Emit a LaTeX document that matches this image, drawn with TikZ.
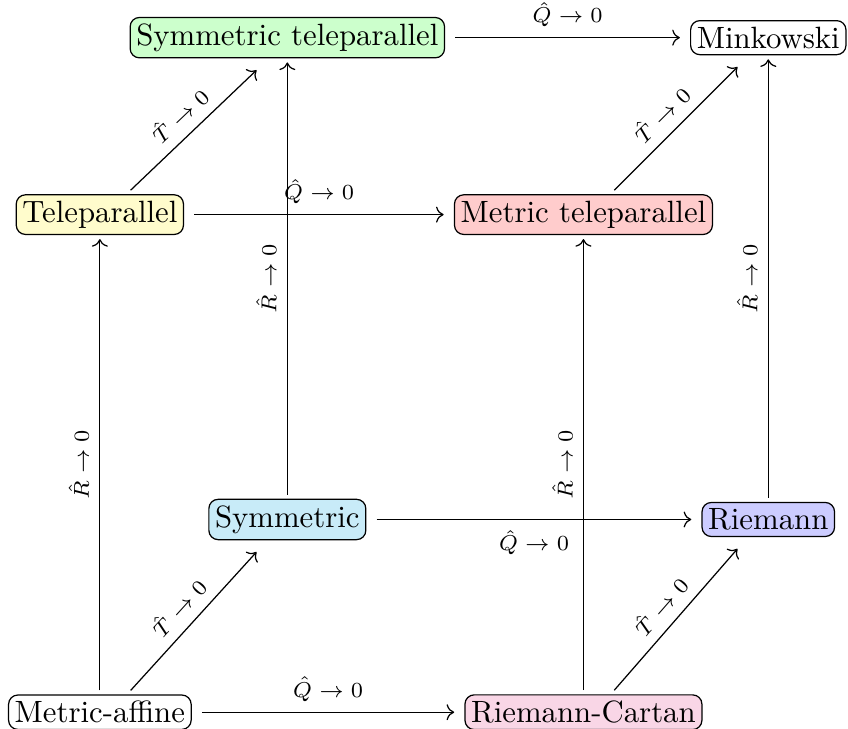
\documentclass[tikz,border=0pt]{standalone}
\usepackage{xcolor}
\usepackage{amsmath, amssymb}
\usepackage{tikz}
\usetikzlibrary{arrows.meta, positioning, calc}

\definecolor{symfill}{RGB}{200,235,248}
\definecolor{rcfill}{RGB}{249,214,230}

\begin{document}
\begin{tikzpicture}[
		geom/.style={draw, rounded corners=3pt, inner sep=2pt, outer xsep=3.5pt, outer ysep=1.5pt},
		lbl/.style={font=\scriptsize}]
	\useasboundingbox (0,0) rectangle (9.68,8.32);
	\node[geom] (MA) at (1.14,0.19) {Metric-affine};
	\node[geom, fill=rcfill] (RC) at (6.66,0.19) {Riemann-Cartan};
	\node[geom, fill=symfill] (Sym) at (3.28,2.39) {Symmetric};
	\node[geom, fill=blue!20] (Riem) at (8.77,2.39) {Riemann};
	\node[geom, fill=yellow!20] (Tele) at (1.14,5.87) {Teleparallel};
	\node[geom, fill=red!20] (MTele) at (6.66,5.87) {Metric teleparallel};
	\node[geom, fill=green!20] (STele) at (3.28,7.89) {Symmetric teleparallel};
	\node[geom] (Mink) at (8.77,7.89) {Minkowski};

	\draw[->] (MA) -- node[lbl, above] {$\hat{Q}\to 0$} (RC);
	\draw[->] (Sym) -- node[lbl, below] {$\hat{Q}\to 0$} (Riem);
	\draw[->] (Tele) -- node[lbl, above] {$\hat{Q}\to 0$} (MTele);
	\draw[->] (STele) -- node[lbl, above] {$\hat{Q}\to 0$} (Mink);

	\draw[->] (MA) -- node[lbl, sloped, above] {$\hat{R}\to 0$} (Tele);
	\draw[->] (RC) -- node[lbl, sloped, above] {$\hat{R}\to 0$} (MTele);
	\draw[->] (Sym) -- node[lbl, sloped, above] {$\hat{R}\to 0$} (STele);
	\draw[->] (Riem) -- node[lbl, sloped, above] {$\hat{R}\to 0$} (Mink);

	\draw[->] ([xshift=10pt]MA.north) -- node[lbl, sloped, above] {$\hat{T}\to 0$} ([xshift=-10pt,yshift=-2.5pt]Sym.south);
	\draw[->] ([xshift=10pt]RC.north) -- node[lbl, sloped, above] {$\hat{T}\to 0$} ([xshift=-10pt,yshift=-2.5pt]Riem.south);
	\draw[->] ([xshift=10pt]Tele.north) -- node[lbl, sloped, above] {$\hat{T}\to 0$} ([xshift=-10pt,yshift=-2.5pt]STele.south);
	\draw[->] ([xshift=10pt]MTele.north) -- node[lbl, sloped, above] {$\hat{T}\to 0$} ([xshift=-10pt,yshift=-2.5pt]Mink.south);
\end{tikzpicture}
\end{document}
